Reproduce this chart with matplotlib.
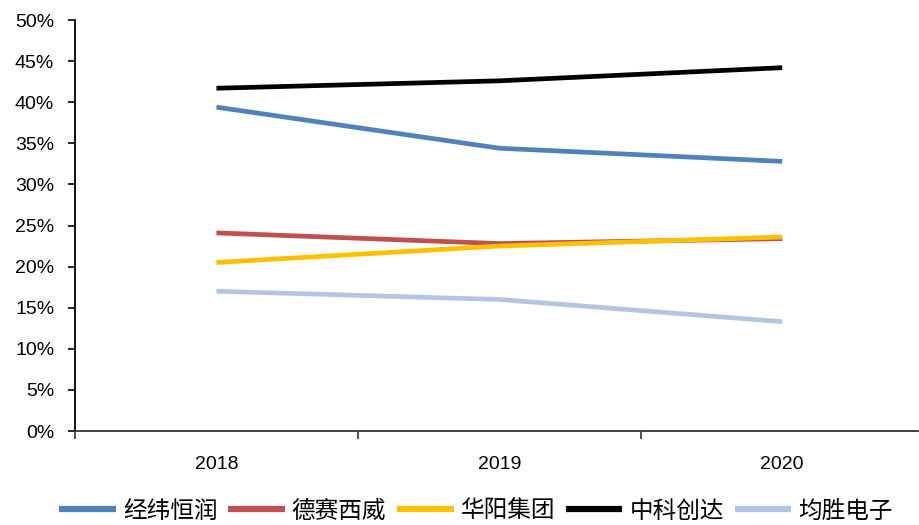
import matplotlib
matplotlib.use("Agg")
import matplotlib.pyplot as plt
from matplotlib.ticker import FuncFormatter

years = ["2018", "2019", "2020"]
jingwei = [39.4, 34.4, 32.8]
desay = [24.1, 22.8, 23.4]
huayang = [20.5, 22.5, 23.6]
thundersoft = [41.7, 42.6, 44.2]
joyson = [17.0, 16.0, 13.3]

names = ["经纬恒润", "德赛西威", "华阳集团", "中科创达", "均胜电子"]
colors = ["#4F81BD", "#C0504D", "#FFC000", "#000000", "#B4C5E4"]
series = [jingwei, desay, huayang, thundersoft, joyson]

plt.rcParams['font.family'] = ['Liberation Sans', 'DejaVu Sans']

fig = plt.figure(figsize=(9.19, 5.25), dpi=100)
ax = fig.add_axes([75/919, 1-431/525, (918-75)/919, (431-20)/525])

x = list(range(len(years)))
for name, col, vals in zip(names, colors, series):
    ax.plot(x, vals, color=col, lw=3.4, label=name, solid_capstyle='butt')

ax.set_ylim(0, 50)
ax.set_yticks(range(0, 51, 5))
ax.yaxis.set_major_formatter(FuncFormatter(lambda v, p: f"{int(v)}%"))
ax.set_xlim(-0.5, 2.48)
ax.set_xticks([-0.5, 0.5, 1.5])
ax.set_xticklabels([])
ax.set_xticks(x, minor=True)
ax.set_xticklabels(years, minor=True)
ax.tick_params(axis='x', which='minor', length=0, pad=18, labelsize=14)
ax.tick_params(axis='x', which='major', length=6, width=1.2, direction='out', color='#333333')
ax.tick_params(axis='y', length=5, width=1.2, direction='out', labelsize=14, pad=10)
for s in ['top', 'right']:
    ax.spines[s].set_visible(False)
ax.spines['left'].set_linewidth(1.3)
ax.spines['bottom'].set_linewidth(1.3)
ax.spines['bottom'].set_color('#333333')

leg = fig.legend(loc='center', bbox_to_anchor=(0.518, 1-511/525), ncol=5, frameon=False,
                 prop={'family': ['Noto Sans CJK SC', 'DejaVu Sans'], 'size': 17, 'weight': 'light'},
                 handlelength=2.4, columnspacing=0.45, handletextpad=0.3,
                 borderpad=0.1)
for h in leg.get_lines():
    h.set_linewidth(4.5)

fig.savefig("out.png", dpi=100)
